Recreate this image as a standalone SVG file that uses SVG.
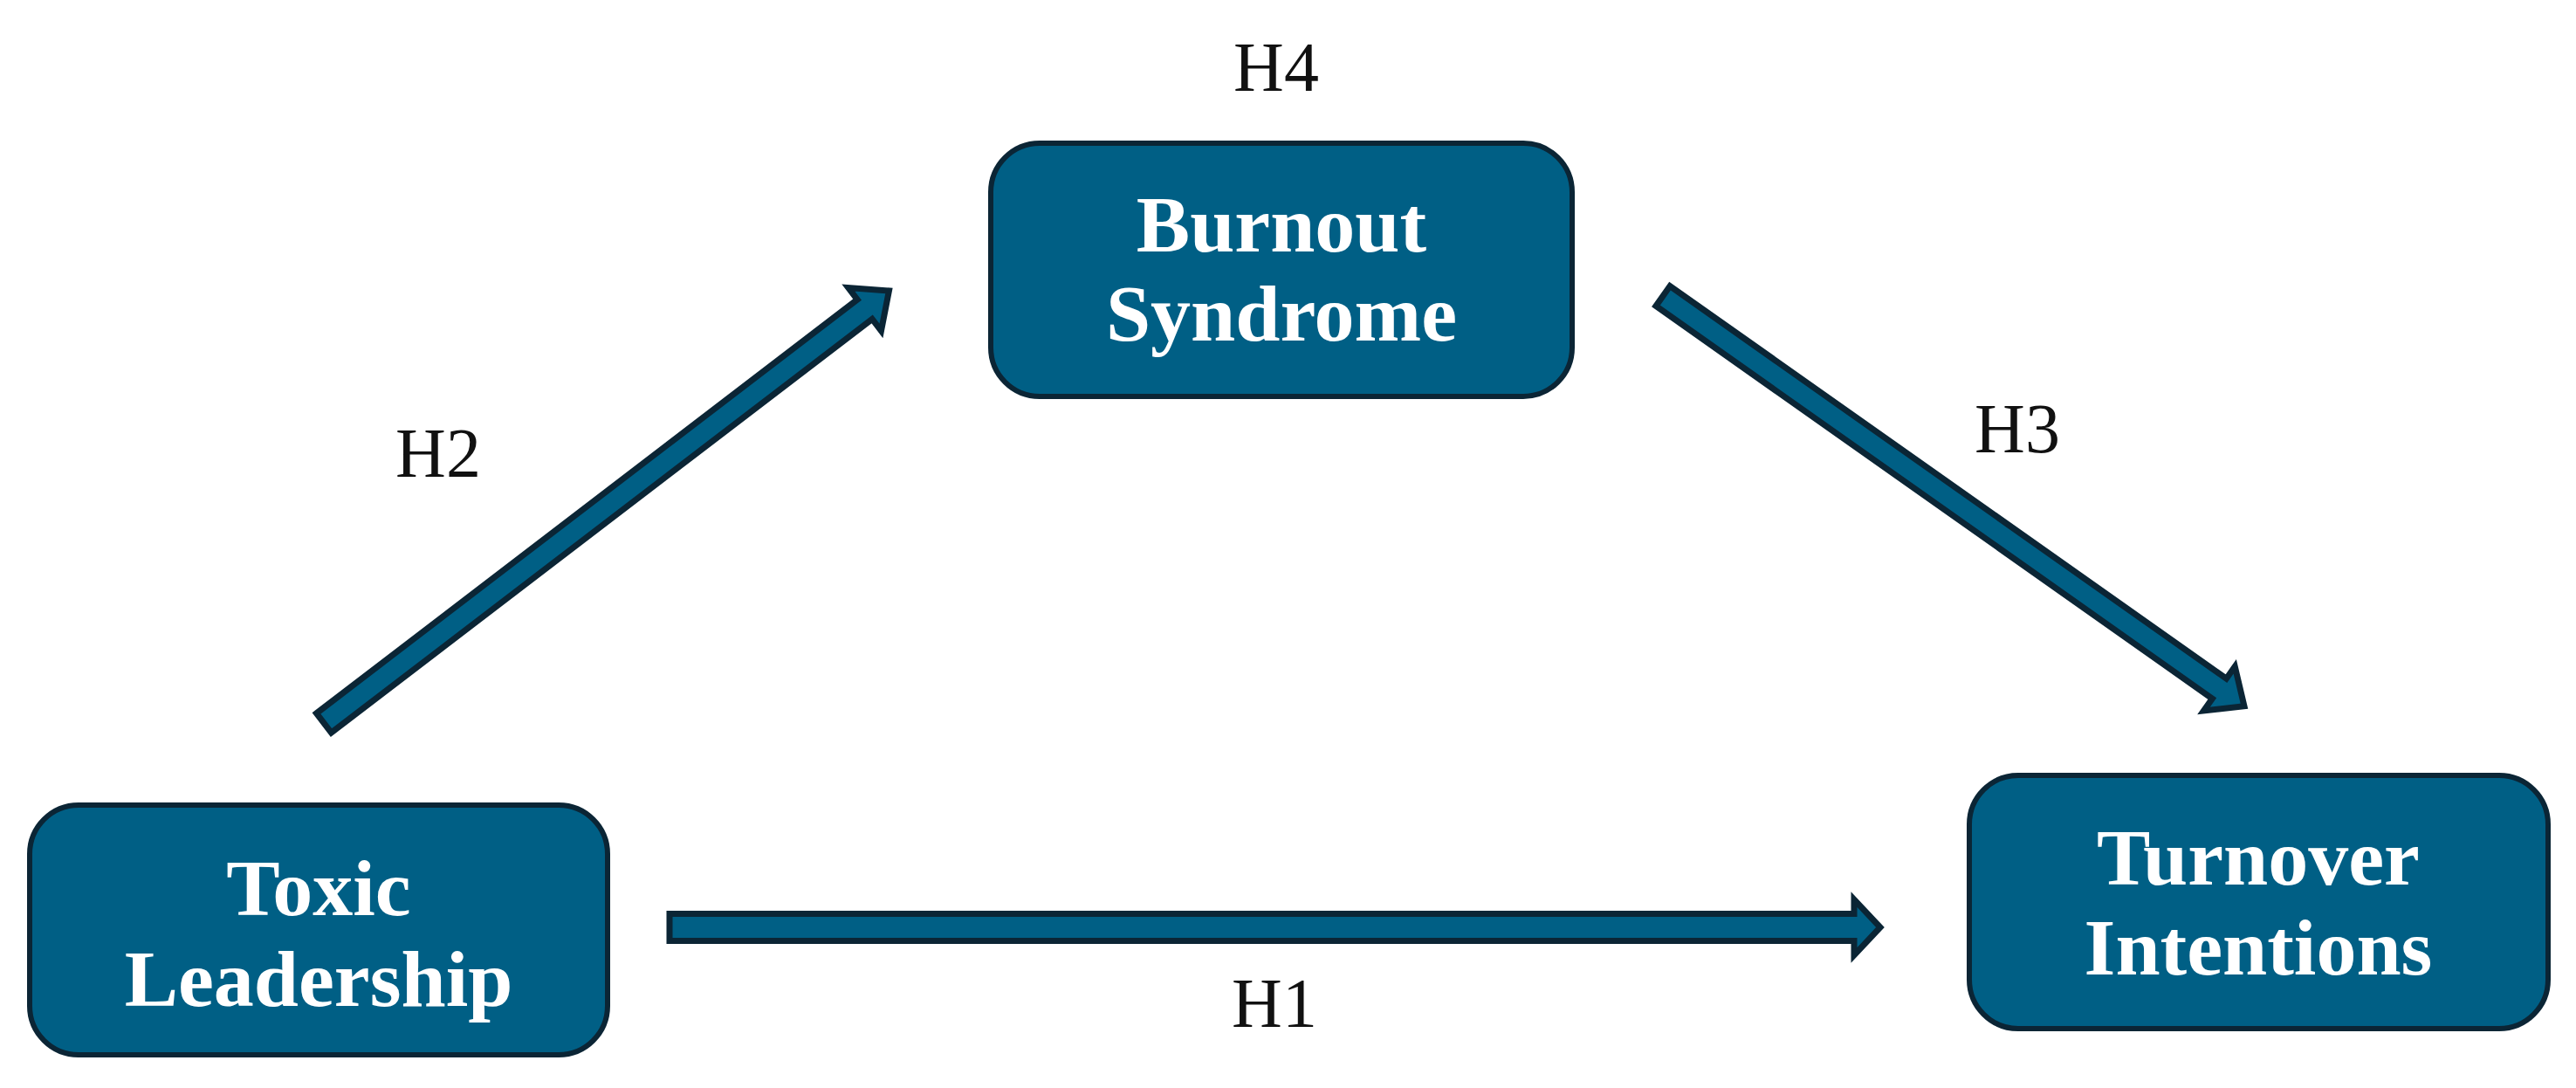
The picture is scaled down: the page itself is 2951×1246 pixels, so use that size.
<svg xmlns="http://www.w3.org/2000/svg" width="2951" height="1246" viewBox="0 0 2951 1246">
<style>
.box{fill:#005F85;stroke:#0B2535;stroke-width:6}
.arrow{fill:#005F85;stroke:#0B2535;stroke-width:7;stroke-linejoin:miter}
.nt{font-family:"Liberation Serif","Times New Roman",serif;font-weight:bold;font-size:92px;fill:#FFFFFF;text-anchor:middle}
.hl{font-family:"Liberation Serif","Times New Roman",serif;font-size:80px;fill:#111111;text-anchor:middle}
</style>
<defs>
<path id="arr" d="M0,-14 L-35,-14 L-35,-31 L0,0 Z"/>
</defs>
<rect width="2951" height="1246" fill="#FFFFFF"/>
<g id="connectors">
<g id="h1">
<path class="arrow" d="M767,1046.5 L2124,1046.5 L2124,1030 L2154,1062 L2124,1094 L2124,1077.5 L767,1077.5 Z"/>
<text class="hl" x="1460" y="1176">H1</text>
</g>
<g id="h2">
<path class="arrow" transform="translate(371,828) rotate(-37.4)" d="M0,-14 L780,-14 L780,-31 L815,0 L780,31 L780,14 L0,14 Z"/>
<text class="hl" x="502" y="546">H2</text>
</g>
<g id="h3">
<path class="arrow" transform="translate(1905,339) rotate(35.2)" d="M0,-14 L780,-14 L780,-31 L815,0 L780,31 L780,14 L0,14 Z"/>
<text class="hl" x="2311" y="518">H3</text>
</g>
<text id="h4" class="hl" x="1462" y="104">H4</text>
</g>
<g id="toxic">
<rect class="box" x="34" y="922" width="662" height="286" rx="56" ry="56"/>
<text class="nt" x="365" y="1048">Toxic</text>
<text class="nt" x="365" y="1152">Leadership</text>
</g>
<g id="burnout">
<rect class="box" x="1135" y="164" width="666" height="290" rx="56" ry="56"/>
<text class="nt" x="1468" y="288">Burnout</text>
<text class="nt" x="1468" y="390">Syndrome</text>
</g>
<g id="turnover">
<rect class="box" x="2256" y="888" width="663" height="290" rx="56" ry="56"/>
<text class="nt" x="2587" y="1013">Turnover</text>
<text class="nt" x="2587" y="1116">Intentions</text>
</g>
</svg>
